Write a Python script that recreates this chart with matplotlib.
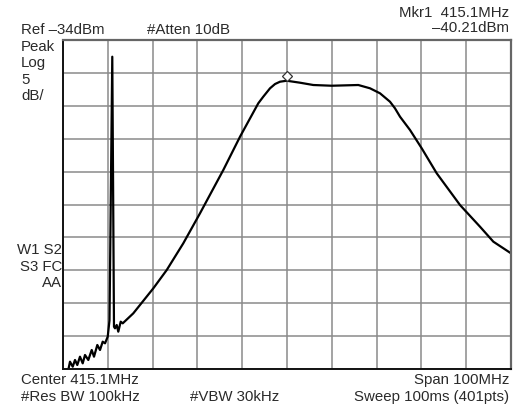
import numpy as np
import matplotlib
matplotlib.use("Agg")
import matplotlib.pyplot as plt

plt.rcParams['font.family'] = ['Liberation Sans', 'DejaVu Sans']

# analyzer settings
ref_dbm = -34
db_per_div = 5
center_mhz = 415.1
span_mhz = 100

# trace (MHz, dBm)
freq_mhz = [365.5, 366.28, 366.66, 367.27, 367.78, 368.29, 368.89, 369.50, 370.01,
            370.75, 371.51, 372.02, 372.76, 373.36, 373.96, 374.48, 375.08, 375.48,
            376.10, 376.48, 376.71, 377.09, 377.44, 377.98, 378.43, 380.79, 385.26,
            388.25, 391.95, 395.68, 400.88, 404.61, 408.69, 409.81, 411.31, 412.43,
            413.54, 415.03, 418.0, 420.97, 425.08, 431.02, 433.63, 435.86, 438.09,
            439.2, 440.33, 442.56, 445.17, 448.52, 453.72, 458.19, 461.16, 465.1]
level_dbm = [-84.6, -84.15, -82.89, -83.65, -82.63, -83.39, -82.13, -83.14, -81.87,
             -82.63, -81.11, -82.13, -80.35, -81.11, -79.85, -80.10, -79.09, -76.6,
             -36.54, -77.57, -77.82, -77.31, -78.33, -76.81, -77.06, -75.54, -71.74,
             -68.96, -64.90, -60.34, -53.76, -48.70, -43.62, -42.61, -41.34, -40.69,
             -40.34, -40.19, -40.49, -40.84, -40.95, -40.84, -41.34, -42.10, -43.38,
             -44.38, -45.66, -47.68, -50.46, -54.26, -59.08, -62.38, -64.65, -66.42]

mkr_freq = 415.1
mkr_level = -40.21

W, H = 519, 411
fig = plt.figure(figsize=(W / 100, H / 100), dpi=100)
ax = fig.add_axes([63 / W, 1 - 369 / H, 448 / W, 329 / H])

x0 = center_mhz - span_mhz / 2
x1 = center_mhz + span_mhz / 2
y0 = ref_dbm - 10 * db_per_div
ax.set_xlim(x0, x1)
ax.set_ylim(y0, ref_dbm)
ax.set_xticks(np.linspace(x0, x1, 11))
ax.set_yticks(np.linspace(y0, ref_dbm, 11))
ax.tick_params(length=0, labelbottom=False, labelleft=False)
ax.grid(True, color='#8a8a8a', linewidth=1.1)
ax.set_axisbelow(True)
for s in ['left', 'bottom']:
    ax.spines[s].set_color('#111111')
    ax.spines[s].set_linewidth(1.4)
for s in ['top', 'right']:
    ax.spines[s].set_color('#666666')
    ax.spines[s].set_linewidth(1.6)

ax.plot(freq_mhz, level_dbm, color='black', linewidth=1.6, solid_joinstyle='round')
ax.plot([mkr_freq], [mkr_level + 0.75], marker='D', markersize=5,
        markerfacecolor='white', markeredgecolor='#333333', markeredgewidth=0.9)


def txt(x, y, s, ha='left'):
    fig.text(x / W, 1 - y / H, s, ha=ha, va='center', fontsize=10.8, color='#2a2a2a')


txt(21, 30, "Ref \u201334dBm")
txt(147, 30, "#Atten 10dB")
txt(509, 13, "Mkr1  415.1MHz", ha='right')
txt(509, 28, "\u201340.21dBm", ha='right')
txt(21, 47, "Peak")
txt(21, 63, "Log")
txt(21, 80, "5")
txt(21, 96, "dB/")
txt(62, 250, "W1 S2", ha='right')
txt(62, 267, "S3 FC", ha='right')
txt(62, 283, "AA", ha='right')
txt(21, 380, "Center 415.1MHz")
txt(21, 397, "#Res BW 100kHz")
txt(190, 397, "#VBW 30kHz")
txt(509, 380, "Span 100MHz", ha='right')
txt(509, 397, "Sweep 100ms (401pts)", ha='right')

fig.savefig("out.png", dpi=100)
